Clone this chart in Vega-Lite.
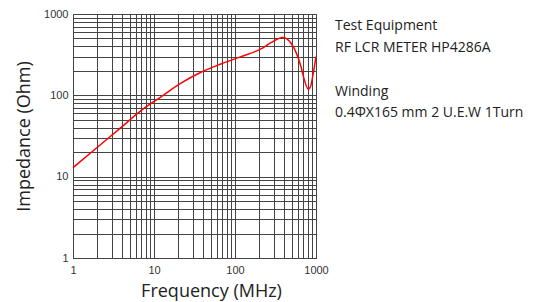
{
  "$schema": "https://vega.github.io/schema/vega-lite/v6.json",
  "padding": {"left": 15, "top": 7, "right": 0, "bottom": 0},
  "background": "white",
  "config": {
    "view": {"stroke": "#444", "strokeWidth": 1},
    "axis": {"labelFont": "Liberation Sans", "labelFontSize": 11, "labelColor": "#333", "titleFont": "Open Sans", "titleFontSize": 18, "titleFontWeight": "normal", "titleColor": "#222"}
  },
  "spacing": 6,
  "hconcat": [
    {
      "width": 243,
      "height": 244,
      "data": {"values": [
        {"f": 1, "z": 12.9},
        {"f": 2, "z": 23},
        {"f": 3.9, "z": 40},
        {"f": 6.9, "z": 64.8},
        {"f": 12.2, "z": 96},
        {"f": 21.5, "z": 141},
        {"f": 38, "z": 192},
        {"f": 67, "z": 243},
        {"f": 119, "z": 299},
        {"f": 209, "z": 372},
        {"f": 278, "z": 445},
        {"f": 388, "z": 515},
        {"f": 490, "z": 440},
        {"f": 653, "z": 225},
        {"f": 718, "z": 155},
        {"f": 804, "z": 119},
        {"f": 860, "z": 130},
        {"f": 910, "z": 170},
        {"f": 1000, "z": 300}
      ]},
      "mark": {"type": "line", "color": "#ff0000", "strokeWidth": 1.5, "interpolate": "monotone"},
      "encoding": {
        "x": {"field": "f", "type": "quantitative", "scale": {"type": "log", "domain": [1, 1000], "nice": false},
          "axis": {"title": "Frequency (MHz)", "values": [1,2,3,4,5,6,7,8,9,10,20,30,40,50,60,70,80,90,100,200,300,400,500,600,700,800,900,1000],
            "format": "d", "labelExpr": "datum.value == 1 || datum.value == 10 || datum.value == 100 || datum.value == 1000 ? datum.label : ''",
            "labelOverlap": false, "labelFlush": false, "ticks": false, "domain": false, "grid": true, "gridColor": "#444", "gridOpacity": 1, "gridWidth": 1, "labelPadding": 6, "titlePadding": 7, "titleX": 138}},
        "y": {"field": "z", "type": "quantitative", "scale": {"type": "log", "domain": [1, 1000], "nice": false},
          "axis": {"title": "Impedance (Ohm)", "values": [1,2,3,4,5,6,7,8,9,10,20,30,40,50,60,70,80,90,100,200,300,400,500,600,700,800,900,1000],
            "format": "d", "labelExpr": "datum.value == 1 || datum.value == 10 || datum.value == 100 || datum.value == 1000 ? datum.label : ''",
            "labelOverlap": false, "labelFlush": false, "ticks": false, "domain": false, "grid": true, "gridColor": "#444", "gridOpacity": 1, "gridWidth": 1, "labelPadding": 5, "titlePadding": 10}}
      }
    },
    {
      "width": 210,
      "height": 244,
      "view": {"stroke": null},
      "data": {"values": [
        {"col": 0, "row": 0, "text": "Test Equipment"},
        {"col": 0, "row": 1, "text": "RF LCR METER HP4286A"},
        {"col": 0, "row": 3, "text": "Winding"},
        {"col": 0, "row": 4, "text": "0.4ΦX165 mm 2 U.E.W 1Turn"}
      ]},
      "mark": {"type": "text", "align": "left", "baseline": "alphabetic", "font": "Open Sans", "fontSize": 14, "color": "#222"},
      "encoding": {
        "x": {"field": "col", "type": "quantitative", "scale": {"domain": [0, 1]}, "axis": null},
        "y": {"field": "row", "type": "quantitative", "scale": {"domain": [-0.76, 10.484], "reverse": true, "nice": false, "zero": false}, "axis": null},
        "text": {"field": "text"}
      }
    }
  ]
}
